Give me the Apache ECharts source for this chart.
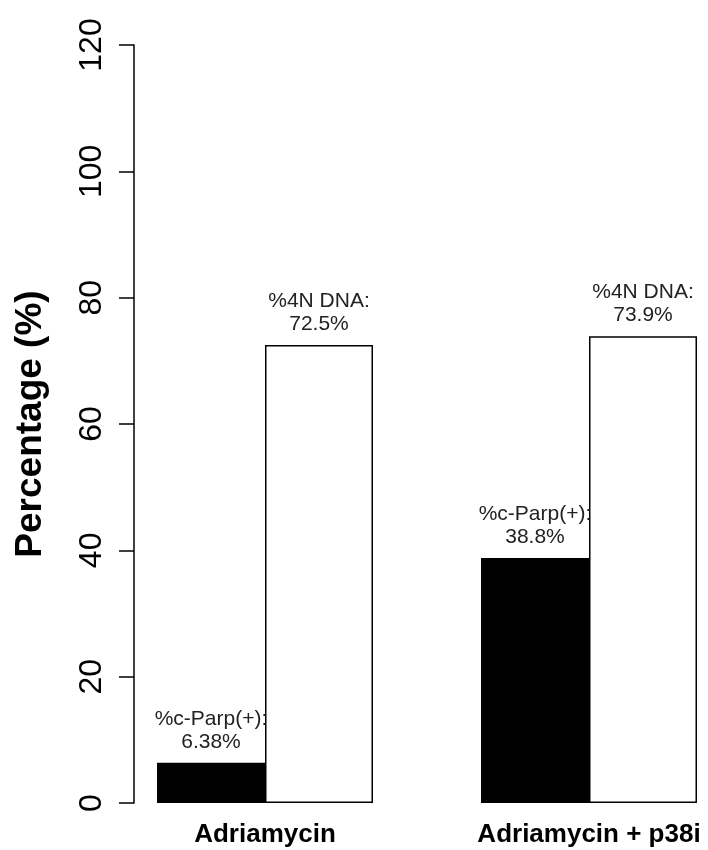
<!DOCTYPE html>
<html>
<head>
<meta charset="utf-8">
<script src="https://cdn.jsdelivr.net/npm/echarts@6/dist/echarts.min.js"></script>
<style>
html,body{margin:0;padding:0;background:#fff;}
#chart{width:708px;height:850px;}
</style>
</head>
<body>
<div id="chart"></div>
<script>
var categories = ['Adriamycin', 'Adriamycin + p38i'];
var parpName = '%c-Parp(+)';
var parpValues = [6.38, 38.8];
var dnaName = '%4N DNA';
var dnaValues = [72.5, 73.9];
var yTicks = [0, 20, 40, 60, 80, 100, 120];

var FONT = 'Liberation Sans, Arial, Helvetica, sans-serif';
var chart = echarts.init(document.getElementById('chart'), null, {renderer: 'canvas'});
var labelCfg = {
  show: true,
  position: 'top',
  distance: 9,
  formatter: function (p) { return p.seriesName + ':\n' + p.value + '%'; },
  fontFamily: FONT,
  fontSize: 21,
  lineHeight: 23,
  color: '#222'
};
chart.setOption({
  animation: false,
  backgroundColor: '#fff',
  grid: {left: 103, top: 45, width: 648, height: 758, containLabel: false, outerBoundsMode: 'none'},
  xAxis: {
    type: 'category',
    data: categories,
    boundaryGap: true,
    axisLine: {show: false},
    axisTick: {show: false},
    axisLabel: {fontFamily: FONT, fontSize: 26, fontWeight: 'bold', color: '#000', margin: 19}
  },
  yAxis: {
    type: 'value',
    min: yTicks[0],
    max: yTicks[yTicks.length - 1],
    interval: yTicks[1] - yTicks[0],
    offset: -31,
    name: 'Percentage (%)',
    nameLocation: 'middle',
    nameRotate: 90,
    nameGap: 85,
    nameTextStyle: {fontFamily: FONT, fontSize: 37, fontWeight: 'bold', color: '#000'},
    axisLine: {show: true, lineStyle: {color: '#000', width: 1.5}},
    axisTick: {show: true, inside: false, length: 15, lineStyle: {color: '#000', width: 1.5}},
    axisLabel: {rotate: 90, fontFamily: FONT, fontSize: 32, color: '#000', margin: 26},
    splitLine: {show: false}
  },
  series: [
    {
      name: parpName,
      type: 'bar',
      data: parpValues,
      barGap: '0%',
      barCategoryGap: '33.333%',
      itemStyle: {color: '#000', borderColor: '#000', borderWidth: 1.5},
      label: labelCfg
    },
    {
      name: dnaName,
      type: 'bar',
      data: dnaValues,
      barGap: '0%',
      barCategoryGap: '33.333%',
      itemStyle: {color: '#fff', borderColor: '#000', borderWidth: 1.5},
      label: labelCfg
    }
  ]
});
</script>
</body>
</html>
